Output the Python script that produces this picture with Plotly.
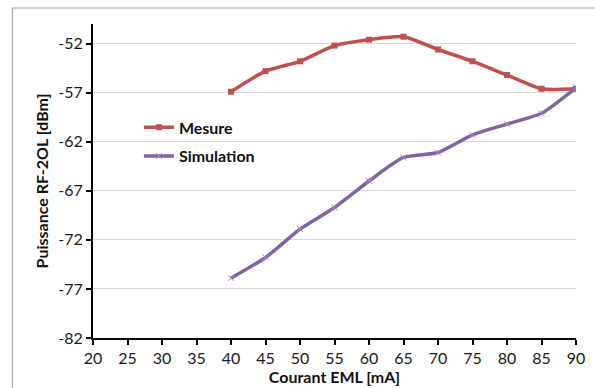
import plotly.graph_objects as go

courant = [40, 45, 50, 55, 60, 65, 70, 75, 80, 85, 90]
mesure = [-56.9, -54.8, -53.8, -52.2, -51.6, -51.3, -52.6, -53.8, -55.2, -56.6, -56.6]
simulation = [-75.9, -73.8, -70.9, -68.7, -66.0, -63.6, -63.1, -61.3, -60.2, -59.1, -56.5]

y_ticks = [-82, -77, -72, -67, -62, -57, -52]
y_tick_labels = ["-82", "-77", "-72", "-67", "-62", "-57", "-52"]

FONT = "Lato"

fig = go.Figure()
fig.add_trace(
    go.Scatter(
        x=courant,
        y=mesure,
        mode="lines+markers",
        name="Mesure",
        legendgroup="a",
        line=dict(color="#C0504D", width=3.5, shape="spline", smoothing=0.6),
        marker=dict(symbol="square", size=6, color="#C0504D"),
    )
)
fig.add_trace(
    go.Scatter(
        x=courant,
        y=simulation,
        mode="lines+markers",
        name="Simulation",
        legendgroup="b",
        line=dict(color="#8064A2", width=3.5, shape="spline", smoothing=0.6),
        marker=dict(symbol="x-thin", size=6, color="#A08CC0",
                    line=dict(width=1, color="#A08CC0")),
    )
)

# outer chart border
fig.add_shape(
    type="rect", xref="paper", yref="paper",
    x0=-0.1666, x1=1.2, y0=-0.2, y1=1.0509,
    line=dict(color="#A6A6A6", width=1.2),
)

fig.update_layout(
    width=595,
    height=388,
    margin=dict(l=93, r=10, t=24, b=50),
    paper_bgcolor="white",
    plot_bgcolor="white",
    font=dict(family=FONT, size=16, color="#1a1a1a"),
    showlegend=True,
    legend=dict(
        x=0.095, y=0.725, xanchor="left", yanchor="top",
        bgcolor="rgba(0,0,0,0)",
        font=dict(size=16, weight="bold", color="#111"),
        tracegroupgap=5,
        itemwidth=30,
    ),
)
fig.update_xaxes(
    range=[20, 90], dtick=5, tick0=20,
    showgrid=False, zeroline=False,
    showline=True, linecolor="black", linewidth=2,
    ticks="outside", ticklen=5, tickwidth=2, tickcolor="black",
    title=dict(text="Courant EML [mA]", standoff=0,
               font=dict(size=16, weight="bold", color="#111")),
)
fig.update_yaxes(
    range=[-82, -50], tickvals=y_ticks, ticktext=y_tick_labels,
    showgrid=True, gridcolor="#D9D9D9", gridwidth=1, zeroline=False,
    showline=True, linecolor="black", linewidth=2,
    ticks="outside", ticklen=5, tickwidth=2, tickcolor="black",
    title=dict(text="Puissance RF-2OL [dBm]", standoff=6,
               font=dict(size=16, weight="bold", color="#111")),
)

fig.write_html(
    "out.html",
    config={"displayModeBar": False},
    post_script="document.body.style.margin='0';",
)
